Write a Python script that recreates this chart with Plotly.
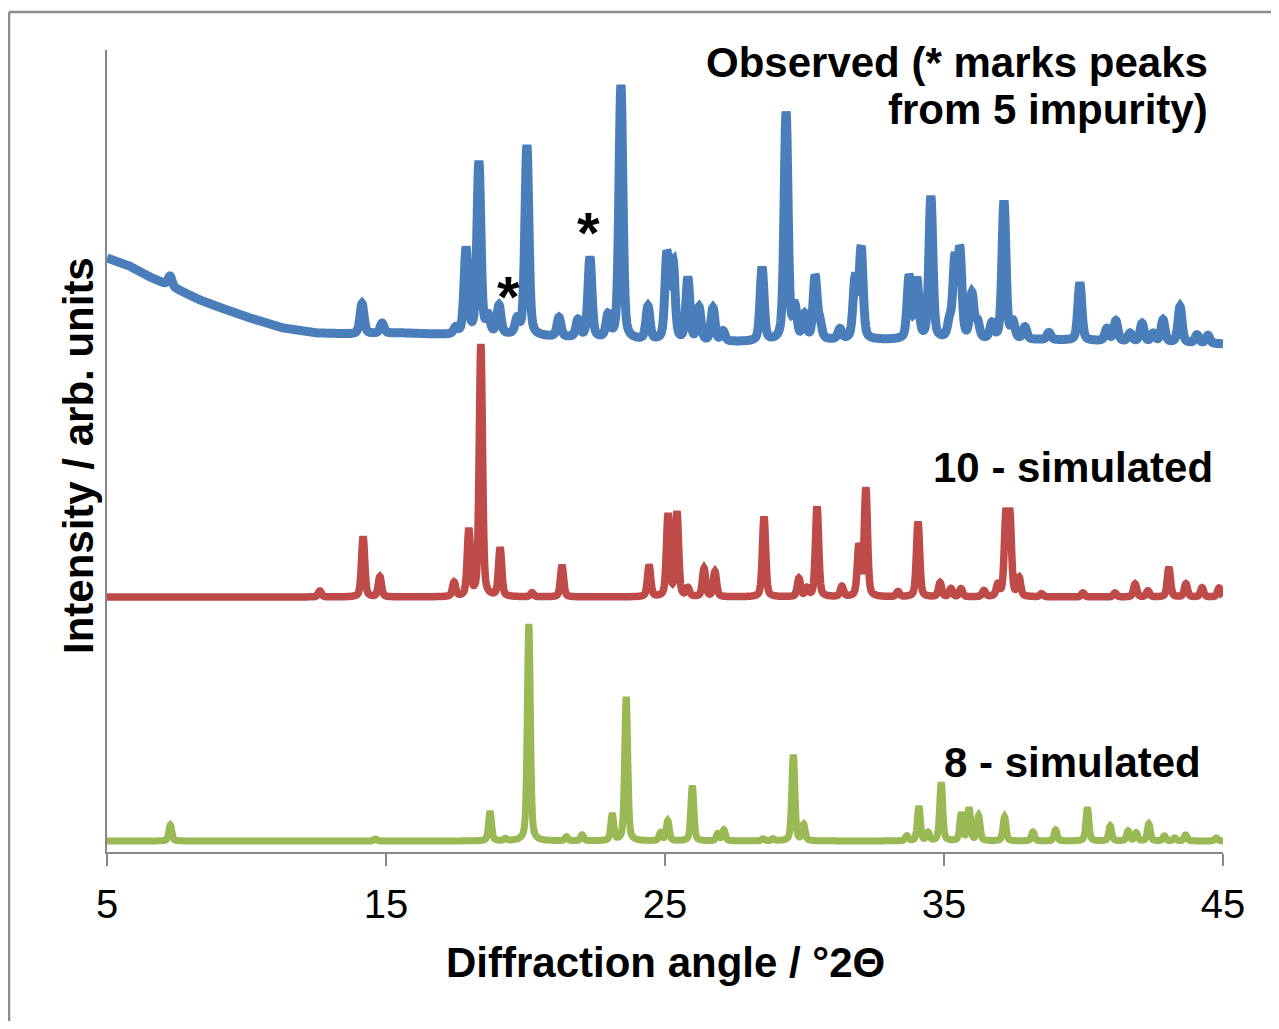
import numpy as np
import plotly.graph_objects as go

# ---------------- data ----------------
angle_range = [5, 45]
tick_vals = [5, 15, 25, 35, 45]
tick_text = ["5", "15", "25", "35", "45"]

# Observed pattern: background (angle, level) and peaks (angle, height above background)
obs_bg_angle = [5.0, 5.8, 6.54, 7.5, 8.33, 9.2, 10.13, 11.31, 12.53, 13.71, 15.5, 17.3, 19.1, 20.9,
                22.7, 24.5, 26.25, 28.05, 29.85, 31.6, 33.4, 35.2, 37.0, 38.8, 40.6, 42.4, 45.0]
obs_bg_level = [594, 586, 575, 563, 552, 543, 534, 524, 519, 518, 519, 517, 517, 515,
                513, 511, 510, 510, 511, 512, 512, 512, 512, 512, 511, 510, 508]
obs_peak_pos = [7.26, 14.14, 14.86, 17.5, 17.87, 18.33, 18.66, 19.05, 19.7, 20.05,
                21.2, 21.88, 22.31, 22.96, 23.42, 24.39, 25.07, 25.29, 25.82, 26.22,
                26.72, 27.08, 28.48, 29.34, 29.66, 30.0, 30.38, 30.55, 31.27, 31.81,
                32.03, 33.75, 34.03, 34.53, 35.2, 35.39, 35.57, 36.0, 36.2, 36.72,
                37.15, 37.47, 37.9, 38.76, 39.87, 40.84, 41.16, 41.67, 42.1, 42.5,
                42.85, 43.46, 44.07, 44.46]
obs_peak_height = [10, 30, 10, 6, 85, 172, 16, 28, 14, 190,
                   19, 17, 80, 22, 254, 33, 85, 76, 62, 33,
                   33, 10, 73, 228, 30, 24, 62, 15, 10, 58,
                   90, 62, 58, 142, 15, 75, 84, 44, 16, 15,
                   138, 16, 12, 7, 57, 12, 20, 8, 18, 8,
                   22, 36, 8, 8]

# Simulated pattern of 10 (offset level + peaks)
sim10_level = 255
sim10_peak_pos = [12.63, 14.18, 14.78, 17.44, 17.97, 18.4, 19.09, 20.23, 21.31, 24.43,
                  25.11, 25.43, 25.82, 26.4, 26.79, 28.55, 29.8, 30.09, 30.45, 31.34,
                  31.95, 32.2, 33.35, 34.07, 34.86, 35.25, 35.61, 36.43, 36.93, 37.22,
                  37.36, 37.69, 38.5, 39.98, 41.13, 41.85, 42.31, 43.06, 43.67, 44.25,
                  44.86]
sim10_peak_height = [6, 60, 20, 14, 66, 252, 48, 4, 31, 31,
                     82, 84, 8, 28, 25, 80, 18, 8, 90, 10,
                     50, 108, 5, 75, 14, 8, 8, 6, 11, 78,
                     78, 18, 3, 4, 4, 13, 6, 29, 13, 9,
                     9]

# Simulated pattern of 8 (offset level + peaks)
sim8_level = 11
sim8_peak_pos = [7.27, 14.62, 18.73, 19.28, 20.12, 21.47, 22.03, 23.11, 23.61, 24.84,
                 25.1, 25.98, 26.89, 27.11, 28.51, 28.87, 29.6, 29.97, 33.67, 34.1,
                 34.43, 34.9, 35.62, 35.9, 36.24, 37.17, 38.19, 39.0, 40.14, 40.96,
                 41.6, 41.89, 42.34, 42.9, 43.27, 43.66, 44.76]
sim8_peak_height = [16, 2, 29, 2, 217, 4, 6, 26, 144, 8,
                    20, 55, 7, 11, 2, 2, 86, 16, 5, 34,
                    8, 58, 27, 32, 25, 24, 9, 11, 33, 15,
                    10, 8, 17, 5, 3, 6, 3]

# ---------------- rendering of the peak lists ----------------
x = np.linspace(angle_range[0], angle_range[1], 4001)


def pattern(level, pos, hts, fwhm, eta=0.4):
    y = np.asarray(level, dtype=float) * np.ones_like(x)
    s = fwhm / 2.3548
    g = fwhm / 2.0
    for p, h in zip(pos, hts):
        gauss = np.exp(-0.5 * ((x - p) / s) ** 2)
        lor = 1.0 / (1.0 + ((x - p) / g) ** 2)
        y = y + h * ((1 - eta) * gauss + eta * lor)
    return y


obs_y = pattern(np.interp(x, obs_bg_angle, obs_bg_level), obs_peak_pos, obs_peak_height, 0.17)
sim10_y = pattern(sim10_level, sim10_peak_pos, sim10_peak_height, 0.14)
sim8_y = pattern(sim8_level, sim8_peak_pos, sim8_peak_height, 0.13)

FONT = "Liberation Sans, Arial, sans-serif"
GRAY = "#878787"

fig = go.Figure()
fig.add_trace(go.Scatter(x=x, y=sim8_y, mode="lines",
                         line=dict(color="#98B954", width=7, simplify=False),
                         name="8 - simulated", hoverinfo="skip"))
fig.add_trace(go.Scatter(x=x, y=sim10_y, mode="lines",
                         line=dict(color="#BE4B48", width=7.5, simplify=False),
                         name="10 - simulated", hoverinfo="skip"))
fig.add_trace(go.Scatter(x=x, y=obs_y, mode="lines",
                         line=dict(color="#4A7EBB", width=9, simplify=False),
                         name="Observed", hoverinfo="skip"))

BIG = 42
ann_font = dict(family=FONT, size=BIG, color="black")
star_font = dict(family=FONT, size=58, color="black")


def label(xv, yv, text, **kw):
    d = dict(x=xv, y=yv, xref="x", yref="y", text=text, xanchor="right", yanchor="middle",
             align="right", showarrow=False, font=ann_font)
    d.update(kw)
    return d


annotations = [
    label(44.55, 790, "<b>Observed (* marks peaks</b>"),
    label(44.55, 743, "<b>from 5 impurity)</b>"),
    label(44.7, 385, "<b>10 - simulated</b>"),
    label(44.3, 90, "<b>8 - simulated</b>"),
    dict(x=19.4, y=556, xref="x", yref="y", text="<b>*</b>", xanchor="center", yanchor="middle",
         showarrow=False, font=star_font),
    dict(x=22.25, y=620, xref="x", yref="y", text="<b>*</b>", xanchor="center", yanchor="middle",
         showarrow=False, font=star_font),
    dict(x=0.5, y=-0.1384, xref="paper", yref="paper", text="<b>Diffraction angle / °2Θ</b>",
         xanchor="center", yanchor="middle", showarrow=False, font=ann_font),
    dict(x=-0.026, y=0.495, xref="paper", yref="paper", text="<b>Intensity / arb. units</b>",
         textangle=-90, xanchor="center", yanchor="middle", showarrow=False, font=ann_font),
]

FRAME = dict(color="#8c8c8c", width=2.5)

# the page adds an 8 px body margin; the figure is sized/positioned to compensate
fig.update_layout(
    width=1263, height=1013,
    margin=dict(l=99, r=48, t=42, b=169),
    paper_bgcolor="white", plot_bgcolor="white",
    showlegend=False,
    annotations=annotations,
    shapes=[
        dict(type="line", xref="paper", yref="paper", x0=-0.0878, x1=-0.0878, y0=-0.3, y1=1.0474,
             line=FRAME, layer="below"),
        dict(type="line", xref="paper", yref="paper", x0=-0.0878, x1=1.2, y0=1.0474, y1=1.0474,
             line=FRAME, layer="below"),
    ],
    xaxis=dict(range=angle_range, tickmode="array", tickvals=tick_vals, ticktext=tick_text,
               showline=True, linecolor=GRAY, linewidth=2, ticks="outside", ticklen=12,
               tickwidth=2, tickcolor=GRAY, showgrid=False, zeroline=False,
               ticklabelstandoff=4,
               tickfont=dict(family=FONT, size=40, color="black")),
    yaxis=dict(range=[0, 802], showline=True, linecolor=GRAY, linewidth=2, showticklabels=False,
               ticks="", showgrid=False, zeroline=False),
)

fig.write_html("out.html")
